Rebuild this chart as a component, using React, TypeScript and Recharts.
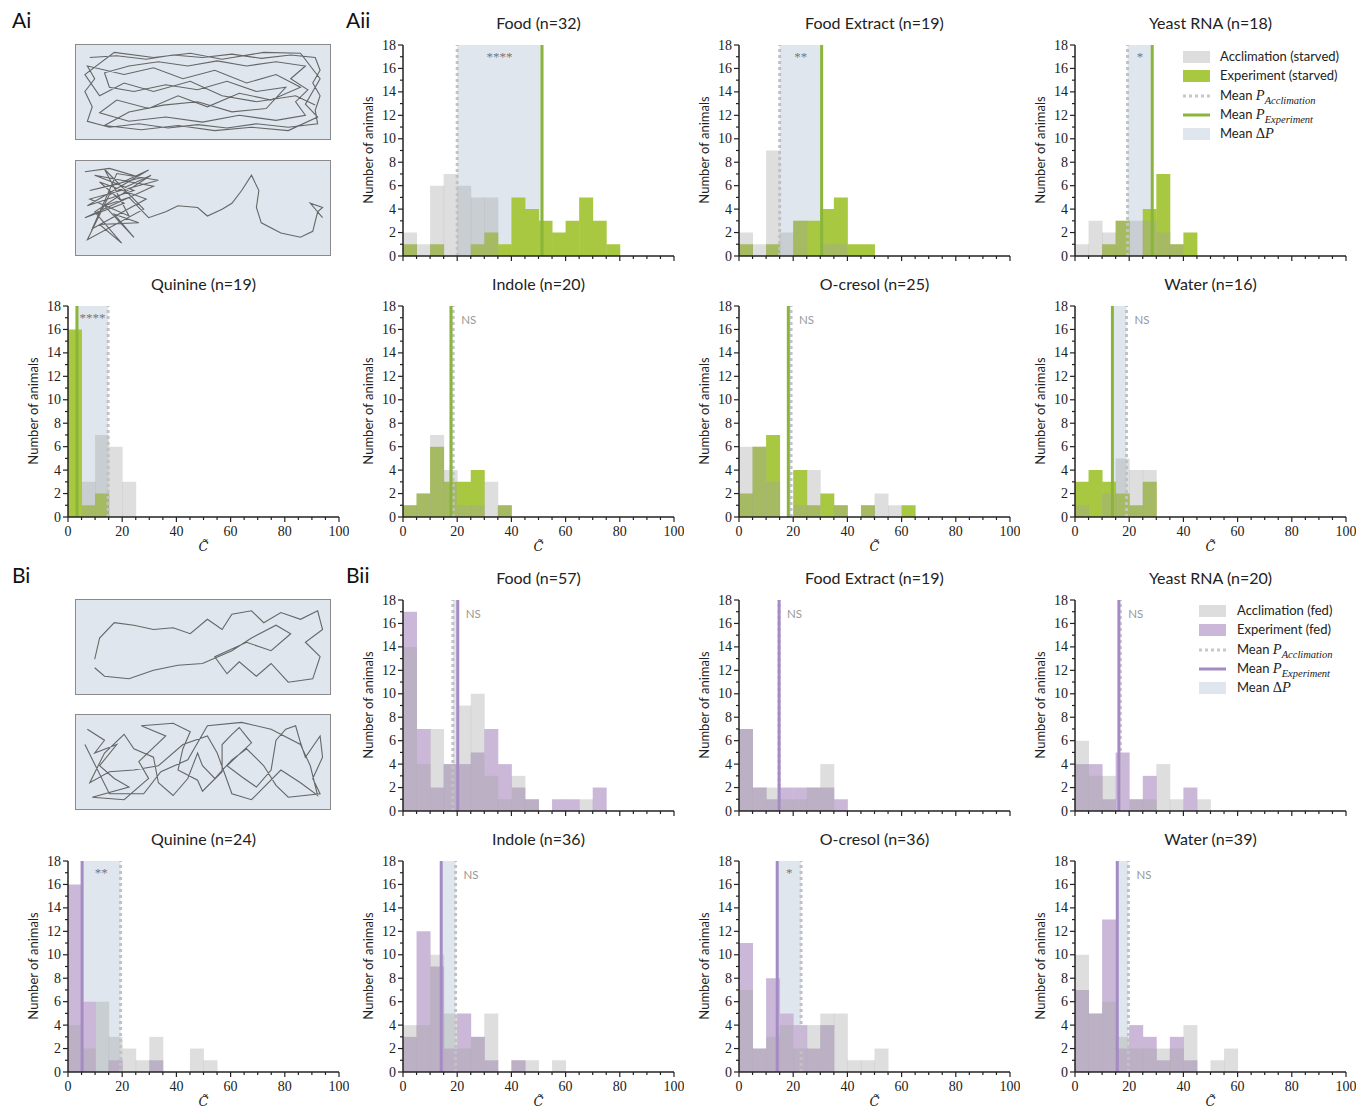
import { ComposedChart, Bar, XAxis, YAxis, ReferenceArea, ReferenceLine, LineChart, Line } from "recharts";

// histogram bins (width 5) on the C-tilde axis
const bins = [0, 5, 10, 15, 20, 25, 30, 35, 40, 45, 50, 55, 60, 65, 70, 75, 80, 85, 90, 95];
const xTicks = [0, 5, 10, 15, 20, 25, 30, 35, 40, 45, 50, 55, 60, 65, 70, 75, 80, 85, 90, 95, 100];
const yTicks = [0, 1, 2, 3, 4, 5, 6, 7, 8, 9, 10, 11, 12, 13, 14, 15, 16, 17, 18];

// starved animals (A)
const aFoodAcc = [2, 1, 6, 7, 6, 5, 5];
const aFoodExp = [1, 0, 1, 0, 0, 1, 2, 1, 5, 4, 3, 2, 3, 5, 3, 1];
const aExtractAcc = [2, 1, 9, 2, 3, 0, 1, 1];
const aExtractExp = [1, 0, 1, 0, 3, 3, 4, 5, 1, 1];
const aYeastAcc = [1, 3, 2, 3, 3, 3, 2, 1];
const aYeastExp = [0, 0, 1, 3, 0, 4, 7, 1, 2];
const aQuinineAcc = [0, 3, 7, 6, 3];
const aQuinineExp = [16, 1, 2];
const aIndoleAcc = [1, 2, 7, 4, 1, 1, 3, 1];
const aIndoleExp = [1, 2, 6, 3, 3, 4, 0, 1];
const aCresolAcc = [6, 6, 3, 0, 1, 4, 0, 1, 0, 1, 2, 1];
const aCresolExp = [2, 6, 7, 0, 4, 1, 2, 1, 0, 1, 0, 0, 1];
const aWaterAcc = [1, 0, 2, 5, 4, 4];
const aWaterExp = [3, 4, 3, 2, 1, 3];

// fed animals (B)
const bFoodAcc = [14, 4, 7, 4, 9, 10, 3, 1, 3, 1, 0, 0, 0, 1];
const bFoodExp = [17, 7, 2, 4, 4, 5, 7, 4, 2, 1, 0, 1, 1, 0, 2];
const bExtractAcc = [7, 2, 2, 1, 1, 2, 4];
const bExtractExp = [7, 2, 1, 2, 2, 2, 2, 1];
const bYeastAcc = [6, 3, 3, 0, 1, 1, 4, 1, 0, 1];
const bYeastExp = [4, 4, 1, 5, 1, 3, 0, 0, 2];
const bQuinineAcc = [4, 2, 6, 3, 2, 1, 3, 0, 0, 2, 1];
const bQuinineExp = [16, 6, 0, 1, 0, 0, 1];
const bIndoleAcc = [4, 4, 10, 5, 2, 3, 5, 0, 1, 1, 0, 1];
const bIndoleExp = [3, 12, 9, 2, 5, 3, 1, 0, 1];
const bCresolAcc = [7, 2, 3, 4, 2, 4, 5, 5, 1, 1, 2];
const bCresolExp = [11, 2, 8, 5, 4, 2, 4];
const bWaterAcc = [10, 5, 6, 3, 2, 2, 2, 2, 4, 0, 1, 2];
const bWaterExp = [7, 5, 13, 2, 4, 3, 1, 3, 1];

// mean positions [acclimation, experiment]
const aMeans = [[20.0, 51.3], [15.0, 30.5], [19.4, 28.5], [14.8, 3.3], [18.5, 17.7], [19.2, 18.2], [19.0, 13.8]];
const bMeans = [[18.4, 20.2], [14.8, 14.8], [16.7, 16.2], [19.4, 5.2], [19.4, 14.1], [22.9, 14.1], [19.7, 15.6]];

// example trajectories (box coordinates, 0-100)
const trackAi1 = [[4,10],[15,8],[27,12],[38,7],[50,10],[62,6],[74,11],[86,7],[96,10],[98,25],[95,40],[98,55],[96,72],[97,88],[85,92],[72,88],[60,93],[48,89],[36,93],[24,88],[12,92],[3,85],[5,68],[2,50],[6,35],[3,20],[18,30],[30,22],[42,35],[55,25],[68,40],[80,30],[90,45],[78,60],[65,52],[52,68],[40,55],[28,70],[15,60],[8,75],[20,85],[35,80],[50,86],[65,78],[80,84],[92,78],[88,62],[93,48],[86,35],[92,20],[80,15],[68,20],[56,14],[44,20],[32,15],[20,20],[10,28],[12,45],[22,50],[35,42],[48,48],[60,38],[72,50],[84,45],[76,70],[62,74],[48,62],[34,66],[20,74],[10,90],[25,95],[40,90],[55,96],[70,92],[85,96],[97,80],[92,65],[98,35],[90,5],[75,4],[58,12],[45,5],[30,10],[14,4],[2,30],[8,55],[18,40],[30,50],[45,38],[58,55],[72,62],[88,55],[96,66]];
const trackAi2 = [[2,8],[12,4],[25,15],[4,30],[16,22],[28,6],[3,48],[22,30],[6,12],[30,25],[2,62],[18,45],[8,20],[27,40],[5,75],[15,10],[32,18],[4,40],[20,60],[10,5],[26,52],[3,88],[12,35],[29,12],[6,55],[17,92],[8,70],[24,68],[14,58],[22,85],[10,48],[20,38],[28,62],[35,55],[40,48],[48,50],[52,60],[58,52],[62,45],[66,30],[70,12],[73,30],[72,50],[74,68],[82,80],[90,85],[95,78],[97,55],[99,50],[94,45],[99,62]];
const trackBi1 = [[6,65],[8,40],[14,22],[22,25],[30,30],[38,28],[45,35],[52,18],[58,30],[62,12],[70,8],[75,22],[82,10],[90,18],[97,8],[99,30],[92,45],[98,62],[95,88],[85,92],[78,70],[72,85],[65,68],[60,82],[55,62],[68,45],[78,55],[86,35],[80,25],[70,40],[62,55],[50,70],[40,72],[30,78],[20,88],[10,85],[6,75]];
const trackBi2 = [[3,12],[10,25],[6,40],[15,30],[8,55],[14,70],[20,80],[5,92],[18,95],[28,70],[24,50],[35,20],[25,8],[38,5],[45,15],[42,35],[40,60],[48,72],[50,85],[58,62],[58,30],[62,18],[65,10],[70,28],[60,55],[66,68],[72,80],[78,60],[80,25],[84,12],[88,8],[90,28],[92,45],[98,20],[99,45],[95,70],[98,88],[85,92],[80,78],[75,55],[68,35],[62,48],[55,70],[50,55],[48,40],[44,70],[38,90],[32,75],[30,45],[22,35],[18,18],[10,40],[4,75],[12,62],[22,60],[32,55],[42,30],[52,20],[56,40],[62,88],[70,95],[82,60],[90,75],[97,90],[94,55],[90,30],[78,12],[66,4],[52,8],[44,48],[33,62],[26,88],[12,88],[2,30]];

const SANS = "Lato, 'Open Sans', sans-serif";
const SERIF = "'Liberation Serif', 'DejaVu Serif', serif";
const GREEN = "#a8c841";
const GREEN_LINE = "#8ab53a";
const PURPLE = "#cbb8d9";
const PURPLE_LINE = "#a58bc4";
const SHADE = "#dfe6ee";

const colLeft = [68, 403, 739, 1075];
const rowTop = [45, 306, 600, 861];
const PLOT_H = 211;
const MARGIN_TOP = 10;
const AXIS_Y = MARGIN_TOP + PLOT_H; // x-axis line inside each chart's svg

const YTick = (p: any) => {
  const v = p.payload.value;
  const major = v % 2 === 0;
  return (
    <g>
      <line x1={p.x} x2={p.x - (major ? 5 : 3)} y1={p.y} y2={p.y} stroke="#222" strokeWidth={1.2} />
      {major && (
        <text x={p.x - 7} y={p.y + 4.5} textAnchor="end" fontSize={14} fontFamily={SERIF} fill="#222">{v}</text>
      )}
    </g>
  );
};

const makeXTick = (showLabels: boolean) => (p: any) => {
  const v = p.payload.value;
  const major = v % 20 === 0;
  return (
    <g>
      <line x1={p.x} x2={p.x} y1={AXIS_Y} y2={AXIS_Y + (major ? 5 : 3)} stroke="#222" strokeWidth={1.2} />
      {major && showLabels && (
        <text x={p.x} y={AXIS_Y + 19} textAnchor="middle" fontSize={14} fontFamily={SERIF} fill="#222">{v}</text>
      )}
    </g>
  );
};

function Hist({ row, col, title, acc, exp, means, sig, fed }: any) {
  const left = colLeft[col];
  const top = rowTop[row];
  const showLabels = row === 1 || row === 3;
  const data = bins.map((b, i) => ({ bin: b, acc: acc[i] || 0, exp: exp[i] || 0 }));
  const [accMean, expMean] = means;
  const lo = Math.min(accMean, expMean);
  const hi = Math.max(accMean, expMean);
  const expColor = fed ? PURPLE : GREEN;
  const lineColor = fed ? PURPLE_LINE : GREEN_LINE;
  const XTick = makeXTick(showLabels);
  const sigLabel = (p: any) => {
    const vb = p.viewBox || {};
    if (sig === "NS") {
      return (
        <text x={vb.x + vb.width + 8} y={vb.y + 18} fontSize={11.5} fontFamily={SANS} fill="#999">NS</text>
      );
    }
    return (
      <text x={vb.x + vb.width / 2} y={vb.y + 16} textAnchor="middle" fontSize={13} fontFamily={SERIF} fill="#777">{sig}</text>
    );
  };
  return (
    <>
      <div style={{ position: "absolute", left, top: top - 32, width: 271, textAlign: "center", fontFamily: SANS, fontSize: 16, color: "#222" }}>
        {title}
      </div>
      <div style={{ position: "absolute", left: left - 35 - 60, top: top + 105 - 8, width: 120, height: 16, textAlign: "center", transform: "rotate(-90deg)", fontFamily: SANS, fontSize: 13, color: "#222", lineHeight: "16px" }}>
        Number of animals
      </div>
      {showLabels && (
        <div style={{ position: "absolute", left, top: top + 233, width: 271, textAlign: "center", fontFamily: "'DejaVu Serif', serif", fontStyle: "italic", fontSize: 13, color: "#222" }}>
          {"C\u0303"}
        </div>
      )}
      <div style={{ position: "absolute", left: left - 50, top: top - MARGIN_TOP }}>
        <ComposedChart width={331} height={266} data={data} margin={{ top: MARGIN_TOP, right: 10, left: 0, bottom: 0 }} barCategoryGap={0} barGap={0}>
          <XAxis xAxisId="n" dataKey="bin" type="number" domain={[0, 100]} allowDataOverflow ticks={xTicks} interval={0}
            tick={XTick} tickLine={false} tickSize={0} tickMargin={0} height={45} axisLine={false} />
          <XAxis xAxisId="e" dataKey="bin" type="category" hide />
          <XAxis xAxisId="a" dataKey="bin" type="category" hide />
          <YAxis domain={[0, 18]} ticks={yTicks} interval={0} tick={<YTick />} tickLine={false} tickSize={0} tickMargin={0}
            width={50} axisLine={{ stroke: "#222", strokeWidth: 1.5 }} allowDataOverflow />
          <ReferenceArea xAxisId="n" x1={lo} x2={hi} y1={0} y2={18} fill={SHADE} fillOpacity={1} stroke="none" label={sigLabel} />
          <Bar xAxisId="e" dataKey="exp" fill={expColor} isAnimationActive={false} />
          <Bar xAxisId="a" dataKey="acc" fill="#a0a0a0" fillOpacity={0.35} isAnimationActive={false} />
          <ReferenceLine xAxisId="n" x={accMean} stroke="#c2c2c2" strokeWidth={3} strokeDasharray="3 3" />
          <ReferenceLine xAxisId="n" x={expMean} stroke={lineColor} strokeWidth={3} />
          <ReferenceLine xAxisId="n" y={0} stroke="#222" strokeWidth={1.5} />
        </ComposedChart>
      </div>
    </>
  );
}

function LegendBox({ left, top, fed }: any) {
  const expColor = fed ? PURPLE : GREEN;
  const lineColor = fed ? PURPLE_LINE : GREEN_LINE;
  const tag = fed ? "fed" : "starved";
  const textLeft = fed ? 38 : 37;
  const sub = { fontFamily: SERIF, fontStyle: "italic", fontSize: 10.5 } as any;
  const rows = [
    { sw: <rect x={0} y={0} width={27} height={12} fill="#dddddd" />, text: <span>Acclimation ({tag})</span> },
    { sw: <rect x={0} y={0} width={27} height={12} fill={expColor} />, text: <span>Experiment ({tag})</span> },
    { sw: <line x1={0} x2={27} y1={6} y2={6} stroke="#c8c8c8" strokeWidth={3} strokeDasharray="3 3" />, text: <span>Mean <i style={{ fontFamily: SERIF, fontSize: 14.5 }}>P</i><sub style={sub}>Acclimation</sub></span> },
    { sw: <line x1={0} x2={27} y1={6} y2={6} stroke={lineColor} strokeWidth={3} />, text: <span>Mean <i style={{ fontFamily: SERIF, fontSize: 14.5 }}>P</i><sub style={sub}>Experiment</sub></span> },
    { sw: <rect x={0} y={0} width={27} height={12} fill={SHADE} />, text: <span>Mean <span style={{ fontFamily: SERIF, fontSize: 14.5 }}>Δ<i>P</i></span></span> },
  ];
  return (
    <>
      {rows.map((r, i) => (
        <div key={i} style={{ position: "absolute", left, top: top + i * 19.3 - 8, height: 16, whiteSpace: "nowrap" }}>
          <svg width={27} height={12} style={{ position: "absolute", left: 0, top: 2 }}>{r.sw}</svg>
          <div style={{ position: "absolute", left: textLeft, top: -1, fontFamily: SANS, fontSize: 13, color: "#222", lineHeight: "16px" }}>{r.text}</div>
        </div>
      ))}
    </>
  );
}

function Track({ left, top, pts }: any) {
  const data = pts.map((p: number[]) => ({ x: p[0], y: p[1] }));
  return (
    <div style={{ position: "absolute", left, top, width: 256, height: 96, boxSizing: "border-box", border: "1.5px solid #8a8a8a", background: SHADE }}>
      <LineChart width={253} height={93} data={data} margin={{ top: 4, right: 4, bottom: 4, left: 4 }}>
        <XAxis dataKey="x" type="number" domain={[0, 100]} hide />
        <YAxis type="number" domain={[0, 100]} reversed hide />
        <Line dataKey="y" stroke="#666" strokeWidth={1.1} dot={false} isAnimationActive={false} />
      </LineChart>
    </div>
  );
}

const panelLabel = (text: string, left: number, top: number) => (
  <div style={{ position: "absolute", left, top, fontFamily: SANS, fontSize: 21, color: "#111" }}>{text}</div>
);

export default function App() {
  return (
    <div style={{ position: "absolute", left: 0, top: 0, width: 1369, height: 1111, background: "#fff" }}>
      {panelLabel("Ai", 12, 7)}
      {panelLabel("Aii", 346, 7)}
      {panelLabel("Bi", 12, 562)}
      {panelLabel("Bii", 346, 562)}

      <Track left={75} top={44} pts={trackAi1} />
      <Track left={75} top={160} pts={trackAi2} />
      <Track left={75} top={599} pts={trackBi1} />
      <Track left={75} top={714} pts={trackBi2} />

      <Hist row={0} col={1} title="Food (n=32)" acc={aFoodAcc} exp={aFoodExp} means={aMeans[0]} sig="****" />
      <Hist row={0} col={2} title="Food Extract (n=19)" acc={aExtractAcc} exp={aExtractExp} means={aMeans[1]} sig="**" />
      <Hist row={0} col={3} title="Yeast RNA (n=18)" acc={aYeastAcc} exp={aYeastExp} means={aMeans[2]} sig="*" />
      <Hist row={1} col={0} title="Quinine (n=19)" acc={aQuinineAcc} exp={aQuinineExp} means={aMeans[3]} sig="****" />
      <Hist row={1} col={1} title="Indole (n=20)" acc={aIndoleAcc} exp={aIndoleExp} means={aMeans[4]} sig="NS" />
      <Hist row={1} col={2} title="O-cresol (n=25)" acc={aCresolAcc} exp={aCresolExp} means={aMeans[5]} sig="NS" />
      <Hist row={1} col={3} title="Water (n=16)" acc={aWaterAcc} exp={aWaterExp} means={aMeans[6]} sig="NS" />

      <Hist row={2} col={1} title="Food (n=57)" acc={bFoodAcc} exp={bFoodExp} means={bMeans[0]} sig="NS" fed />
      <Hist row={2} col={2} title="Food Extract (n=19)" acc={bExtractAcc} exp={bExtractExp} means={bMeans[1]} sig="NS" fed />
      <Hist row={2} col={3} title="Yeast RNA (n=20)" acc={bYeastAcc} exp={bYeastExp} means={bMeans[2]} sig="NS" fed />
      <Hist row={3} col={0} title="Quinine (n=24)" acc={bQuinineAcc} exp={bQuinineExp} means={bMeans[3]} sig="**" fed />
      <Hist row={3} col={1} title="Indole (n=36)" acc={bIndoleAcc} exp={bIndoleExp} means={bMeans[4]} sig="NS" fed />
      <Hist row={3} col={2} title="O-cresol (n=36)" acc={bCresolAcc} exp={bCresolExp} means={bMeans[5]} sig="*" fed />
      <Hist row={3} col={3} title="Water (n=39)" acc={bWaterAcc} exp={bWaterExp} means={bMeans[6]} sig="NS" fed />

      <LegendBox left={1183} top={57} />
      <LegendBox left={1199} top={611} fed />
    </div>
  );
}
